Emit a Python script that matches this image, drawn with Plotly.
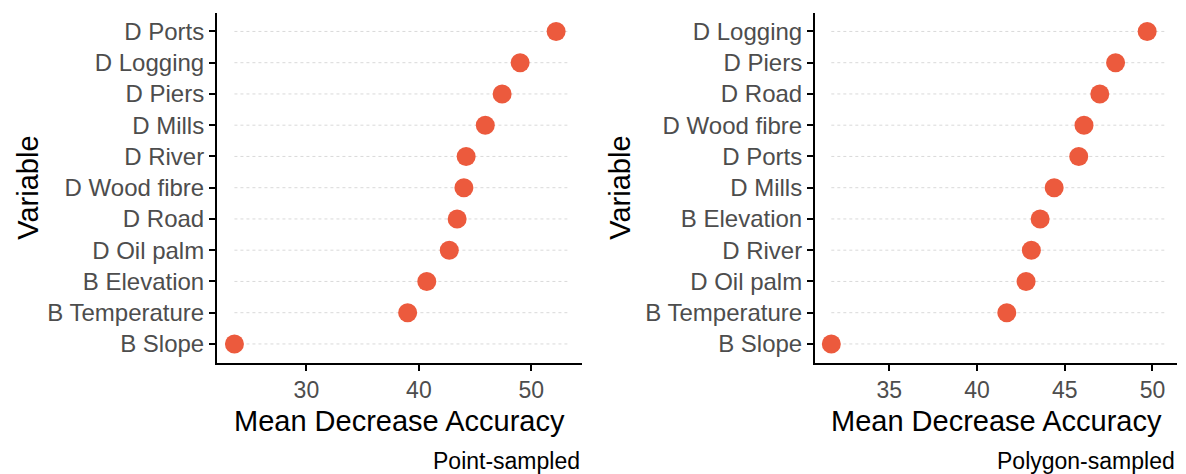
import plotly.graph_objects as go

# ---- data ----
point_vars = ["D Ports", "D Logging", "D Piers", "D Mills", "D River", "D Wood fibre",
              "D Road", "D Oil palm", "B Elevation", "B Temperature", "B Slope"]
point_vals = [52.2, 49.0, 47.4, 45.9, 44.2, 44.0, 43.4, 42.7, 40.7, 39.0, 23.6]

poly_vars = ["D Logging", "D Piers", "D Road", "D Wood fibre", "D Ports", "D Mills",
             "B Elevation", "D River", "D Oil palm", "B Temperature", "B Slope"]
poly_vals = [49.7, 47.9, 47.0, 46.1, 45.8, 44.4, 43.6, 43.1, 42.8, 41.7, 31.7]

point_ticks = [30, 40, 50]
poly_ticks = [35, 40, 45, 50]

x_title = "Mean Decrease Accuracy"
y_title = "Variable"
captions = ["Point-sampled", "Polygon-sampled"]

W, H = 1186, 474
DOT = "#EC5A3D"
FONT = "Liberation Sans, Arial, sans-serif"

fig = go.Figure()

panels = [
    dict(vars=point_vars, vals=point_vals, ticks=point_ticks, xr=[22.05, 54.5],
         px=(217, 582), xa="x", ya="y", cap=captions[0], ytx=28),
    dict(vars=poly_vars, vals=poly_vals, ticks=poly_ticks, xr=[30.77, 51.4],
         px=(815, 1177), xa="x2", ya="y2", cap=captions[1], ytx=620),
]

top_px, bot_px = 12.7, 362.7

for i, p in enumerate(panels):
    n = len(p["vars"])
    lo = min(p["vals"])
    hi = max(p["vals"]) + 1.0
    # dashed guide segments
    gx, gy = [], []
    for v in p["vars"]:
        gx += [lo, hi, None]
        gy += [v, v, None]
    fig.add_trace(go.Scatter(x=gx, y=gy, mode="lines", xaxis=p["xa"], yaxis=p["ya"],
                             line=dict(color="#d9d9d9", width=1, dash="dot"),
                             hoverinfo="skip", showlegend=False))
    fig.add_trace(go.Scatter(x=p["vals"], y=p["vars"], mode="markers",
                             xaxis=p["xa"], yaxis=p["ya"],
                             marker=dict(color=DOT, size=19, line=dict(width=0)),
                             showlegend=False))
    dom_x = [p["px"][0] / W, p["px"][1] / W]
    dom_y = [1 - bot_px / H, 1 - top_px / H]
    sfx = "" if i == 0 else "2"
    fig.layout["xaxis" + sfx] = dict(
        domain=dom_x, range=p["xr"], tickvals=p["ticks"], showgrid=False, zeroline=False,
        showline=True, linecolor="black", linewidth=2, ticks="outside", ticklen=6,
        tickwidth=1.5, tickcolor="black", anchor="y" + sfx,
        tickfont=dict(family=FONT, size=23, color="#4d4d4d"))
    fig.layout["yaxis" + sfx] = dict(
        domain=dom_y, type="category", categoryorder="array",
        categoryarray=list(reversed(p["vars"])), range=[-0.6, n - 1 + 0.6],
        showgrid=False, zeroline=False, showline=True, linecolor="black", linewidth=2,
        ticks="outside", ticklen=6, tickwidth=1.5, tickcolor="black", anchor="x" + sfx,
        tickfont=dict(family=FONT, size=24, color="#4d4d4d"))
    cx = (p["px"][0] + p["px"][1]) / 2 / W
    fig.add_annotation(text=x_title, x=cx, y=1 - 421 / H, xref="paper", yref="paper",
                       showarrow=False, xanchor="center", yanchor="middle",
                       font=dict(family=FONT, size=29, color="black"))
    fig.add_annotation(text=y_title, x=p["ytx"] / W, y=1 - (top_px + bot_px) / 2 / H,
                       xref="paper", yref="paper", showarrow=False, textangle=-90,
                       xanchor="center", yanchor="middle",
                       font=dict(family=FONT, size=29, color="black"))
    fig.add_annotation(text=p["cap"], x=p["px"][1] / W, y=1 - 461 / H, xref="paper",
                       yref="paper", showarrow=False, xanchor="right", yanchor="middle",
                       font=dict(family=FONT, size=23, color="black"))

fig.update_layout(width=W, height=H, margin=dict(l=0, r=0, t=0, b=0),
                  plot_bgcolor="white", paper_bgcolor="white", showlegend=False)

fig.write_html("out.html")
